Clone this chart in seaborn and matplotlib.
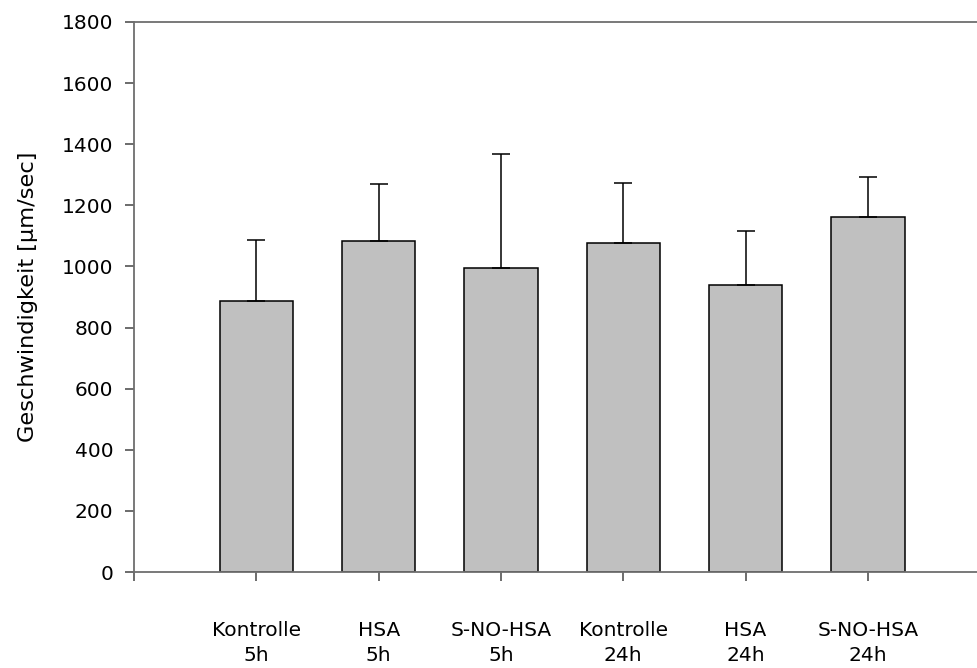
import numpy as np
import pandas as pd
import matplotlib
matplotlib.use("Agg")
import matplotlib.pyplot as plt
import seaborn as sns

# Data

groups = ["Kontrolle\n5h", "HSA\n5h", "S-NO-HSA\n5h",
          "Kontrolle\n24h", "HSA\n24h", "S-NO-HSA\n24h"]
positions = [1, 2, 3, 4, 5, 6]
means = [887, 1084, 996, 1078, 939, 1161]
sd_upper = [199, 187, 373, 196, 178, 132]

df = pd.DataFrame({"pos": positions, "mean": means, "sd": sd_upper, "group": groups})

sns.set_style("white")
plt.rcParams["font.family"] = ["DejaVu Sans"]
plt.rcParams["text.color"] = "black"
plt.rcParams["axes.labelcolor"] = "black"
plt.rcParams["xtick.color"] = "black"
plt.rcParams["ytick.color"] = "black"

fig = plt.figure(figsize=(9.78, 6.68), dpi=100)
ax = fig.add_axes([0.137, 0.1437, 0.863, 0.8234])

sns.barplot(data=df, x="pos", y="mean", native_scale=True, width=0.6,
            color="#c0c0c0", edgecolor="black", linewidth=1.1,
            saturation=1, errorbar=None, ax=ax)

# Upper error bars only
ax.errorbar(df["pos"], df["mean"], yerr=[np.zeros(len(df)), df["sd"]],
            fmt="none", ecolor="black", elinewidth=1.1, capsize=6.5,
            capthick=1.1, zorder=3)

ax.set_xlim(0, 6.9)
ax.set_ylim(0, 1800)
ax.set_yticks(range(0, 1801, 200))
ax.set_xticks([0] + positions)
ax.set_xticklabels([""] + groups, linespacing=1.4)

ax.set_xlabel("")
ax.set_ylabel("Geschwindigkeit [µm/sec]", fontsize=16.2, labelpad=17)

for side in ["left", "bottom", "top"]:
    ax.spines[side].set_color("#6e6e6e")
    ax.spines[side].set_linewidth(1.3)
ax.spines["right"].set_visible(False)

ax.tick_params(axis="both", direction="out", length=6.5, width=1.1,
               color="#444444", labelcolor="black", labelsize=14.5,
               bottom=True, left=True)
ax.tick_params(axis="y", pad=8.5)
ax.tick_params(axis="x", pad=29)

fig.savefig("out.png", dpi=100)
